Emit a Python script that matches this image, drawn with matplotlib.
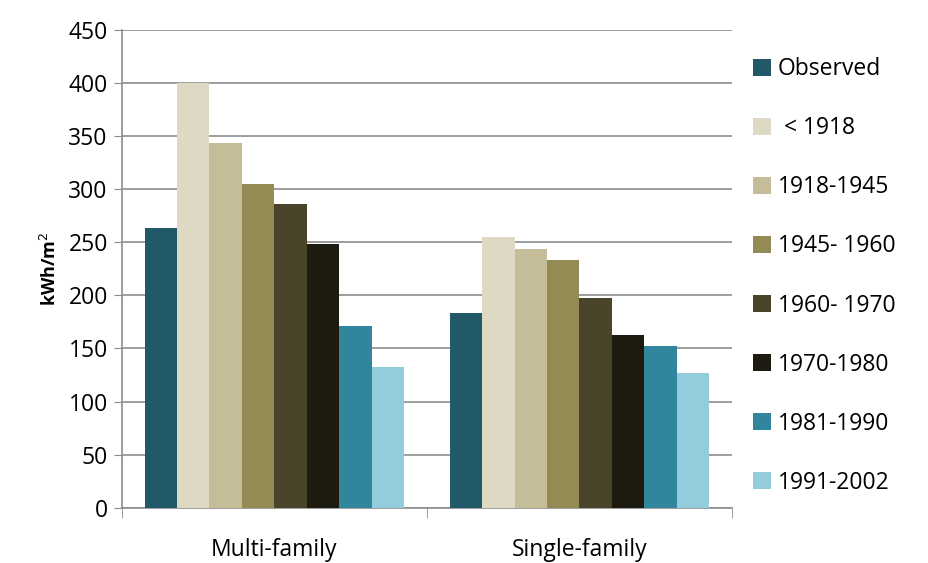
import numpy as np
import matplotlib
matplotlib.use('Agg')
import matplotlib.pyplot as plt

plt.rcParams['font.family'] = ['Open Sans', 'DejaVu Sans']

categories = ['Multi-family', 'Single-family']
series = ['Observed', ' < 1918', '1918-1945', '1945- 1960', '1960- 1970',
          '1970-1980', '1981-1990', '1991-2002']
multi_family = [263, 400, 343, 305, 286, 248, 171, 133]
single_family = [183, 255, 244, 233, 198, 163, 152, 127]
colors = ['#215968', '#DDD9C4', '#C4BD97', '#948A54', '#4A452A',
          '#1D1B10', '#31859C', '#93CDDD']

fig = plt.figure(figsize=(9.29, 5.63), dpi=100)
ax = fig.add_axes([0.131, 0.098, 0.657, 0.849])

x = np.arange(len(categories))
group_w = 0.85
w = group_w / len(series)
for i, name in enumerate(series):
    vals = [multi_family[i], single_family[i]]
    ax.bar(x - group_w / 2 + w * (i + 0.5), vals, width=w, color=colors[i],
           label=name, zorder=3)

ax.set_xlim(-0.5, 1.5)
ax.set_ylim(0, 450)
ax.set_yticks(np.arange(0, 451, 50))
ax.yaxis.grid(True, color='#8c8c8c', linewidth=1.2, zorder=0)
ax.set_xticks(x)
ax.set_xticklabels(categories, fontsize=16.5)
ax.set_xticks([-0.5, 0.5, 1.5], minor=True)
ax.tick_params(axis='x', which='major', length=0, pad=22)
ax.tick_params(axis='x', which='minor', length=7, color='#8c8c8c', direction='out')
ax.tick_params(axis='y', length=6, color='#8c8c8c', labelsize=16.5, pad=4)
for s in ['top', 'right']:
    ax.spines[s].set_visible(False)
for s in ['left', 'bottom']:
    ax.spines[s].set_color('#8c8c8c')
    ax.spines[s].set_linewidth(1.2)

ax.set_ylabel('kWh/m$^2$', fontsize=13, fontweight='bold', labelpad=6)

ax.legend(loc='center left', bbox_to_anchor=(0.99, 0.485), frameon=False,
          fontsize=16.5, labelspacing=1.53, handlelength=0.75, handleheight=0.75,
          handletextpad=0.3, borderaxespad=0.8)

fig.savefig('out.png', dpi=100)
